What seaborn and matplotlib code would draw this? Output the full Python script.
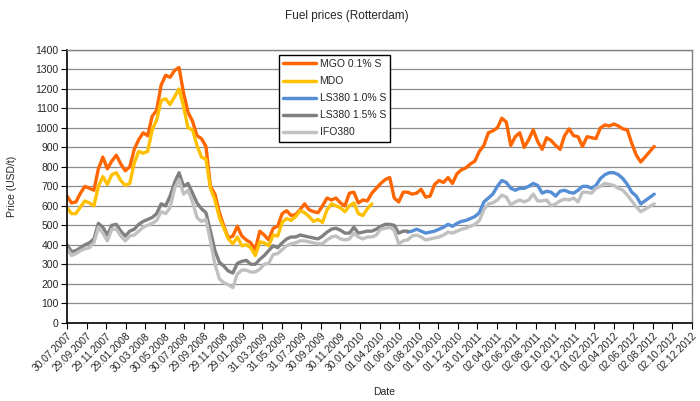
import matplotlib
matplotlib.use("Agg")
import numpy as np
import pandas as pd
import seaborn as sns
import matplotlib.pyplot as plt
from matplotlib.lines import Line2D

sns.set_theme(style="white")
plt.rcParams["font.family"] = ["Liberation Sans", "DejaVu Sans"]

N = None
# 14-day sampling grid starting 30.07.2007
dates = pd.date_range("2007-07-30", periods=132, freq="14D")

mgo = [650, 615, 620, 665, 700, 690, 680, 790, 850, 790,
       830, 860, 815, 780, 800, 890, 940, 975, 960, 1060,
       1090, 1220, 1270, 1260, 1295, 1310, 1180, 1080, 1035, 960,
       945, 905, 700, 660, 565, 495, 435, 445, 495, 445,
       425, 410, 375, 470, 450, 425, 485, 495, 560, 575,
       550, 555, 580, 610, 580, 570, 565, 600, 640, 630,
       640, 615, 600, 665, 670, 615, 630, 625, 665, 690,
       715, 735, 745, 640, 620, 670, 670, 660, 665, 685,
       645, 650, 710, 730, 720, 745, 715, 765, 785, 795,
       815, 830, 880, 910, 975, 985, 1000, 1050, 1030, 910,
       955, 975, 900, 940, 990, 930, 890, 950, 935, 910,
       890, 960, 995, 960, 955, 905, 955, 950, 945, 1000,
       1015, 1010, 1020, 1010, 995, 990, 920, 860, 825, N,
       N, 905]

mdo = [590, 560, 560, 595, 625, 615, 600, 700, 750, 710,
       760, 770, 730, 705, 715, 820, 880, 870, 880, 990,
       1040, 1140, 1150, 1120, 1160, 1200, 1110, 1000, 990, 910,
       850, 840, 690, 630, 540, 485, 430, 405, 440, 395,
       400, 385, 345, 415, 410, 395, 450, 445, 515, 535,
       525, 545, 575, 565, 545, 520, 530, 515, 580, 610,
       600, 590, 570, 600, 615, 560, 550, 585, 610] + [N] * 63

ls380_10 = [N] * 76 + [
       465, 470, 480, 470, 460, 465, 470, 480, 490, 505,
       495, 510, 520, 525, 535, 545, 565, 620, 640, 660,
       700, 730, 720, 690, 680, 690, 690, 700, 715, 705,
       665, 675, 670, 650, 675, 680, 670, 665, 680, 700,
       700, 690, 705, 740, 760, 770, 770, 760, 740, 710,
       670, 650, 610, N, N, 660]

ls380_15 = [400, 365, 370, 385, 400, 410, 430, 510, 490, 450,
       500, 505, 470, 445, 470, 480, 505, 520, 530, 540,
       560, 610, 600, 650, 720, 770, 700, 715, 665, 615,
       585, 565, 470, 370, 310, 290, 265, 255, 305, 315,
       320, 300, 300, 325, 345, 370, 395, 385, 410, 430,
       440, 440, 450, 445, 440, 435, 430, 445, 465, 480,
       485, 475, 460, 460, 490, 460, 465, 470, 470, 480,
       495, 505, 505, 500, 460, 470, 470] + [N] * 55

ifo380 = [380, 345, 355, 370, 380, 385, 410, 490, 460, 420,
       480, 480, 445, 420, 445, 450, 470, 490, 500, 510,
       525, 570, 560, 590, 690, 735, 660, 680, 620, 540,
       520, 530, 420, 300, 225, 205, 195, 180, 250, 270,
       270, 260, 260, 275, 300, 305, 350, 355, 375, 395,
       405, 410, 420, 420, 415, 410, 405, 405, 425, 440,
       445, 430, 425, 430, 460, 440, 430, 440, 440, 450,
       480, 485, 490, 475, 405, 420, 425, 445, 450, 440,
       425, 430, 435, 440, 450, 465, 460, 470, 480, 485,
       495, 505, 525, 580, 610, 615, 630, 655, 645, 605,
       620, 630, 620, 630, 660, 625, 625, 630, 600, 610,
       625, 635, 630, 640, 620, 670, 670, 665, 690, 700,
       715, 710, 705, 690, 680, 655, 625, 595, 570, N,
       N, 610]

series_names = ["MGO 0.1% S", "MDO", "LS380 1.0% S", "LS380 1.5% S", "IFO380"]
series_values = [mgo, mdo, ls380_10, ls380_15, ifo380]
colors = ["#FF6600", "#FFC000", "#558ED5", "#808080", "#C0C0C0"]

frames = []
for name, vals in zip(series_names, series_values):
    assert len(vals) == len(dates), (name, len(vals))
    d = pd.DataFrame({"Date": dates, "Price": pd.to_numeric(pd.Series(vals), errors="coerce"), "Fuel": name})
    frames.append(d.dropna())
df = pd.concat(frames, ignore_index=True)

fig = plt.figure(figsize=(7.0, 4.01), dpi=100)
ax = fig.add_axes([67 / 700, 1 - 322.7 / 401, 625 / 700, 272.7 / 401])

palette = dict(zip(series_names, colors))
sns.lineplot(data=df, x="Date", y="Price", hue="Fuel", hue_order=series_names,
             palette=palette, estimator=None, sort=True, linewidth=2.4,
             legend=False, ax=ax)

# axes
ax.set_ylim(0, 1400)
ax.set_yticks(np.arange(0, 1401, 100))
xmin, xmax = pd.Timestamp("2007-07-30"), pd.Timestamp("2012-12-02")
ax.set_xlim(xmin, xmax)
ticks = pd.date_range(xmin, xmax, freq="61D")
ax.set_xticks(ticks)
ax.set_xticklabels([t.strftime("%d.%m.%Y") for t in ticks], rotation=45,
                   ha="right", rotation_mode="anchor", fontsize=7.3)
ax.tick_params(axis="y", labelsize=7.5, length=4, width=0.8, color="black", pad=2, direction="out", left=True)
ax.tick_params(axis="x", length=4, width=0.8, color="black", pad=2, direction="out", bottom=True)

ax.grid(axis="y", color="#8C8C8C", linewidth=0.9)
ax.set_axisbelow(True)
for side in ["top", "right"]:
    ax.spines[side].set_color("#808080")
    ax.spines[side].set_linewidth(1.0)
for side in ["left", "bottom"]:
    ax.spines[side].set_color("black")
    ax.spines[side].set_linewidth(1.2)

ax.set_xlabel("Date", fontsize=7.5, labelpad=2)
ax.xaxis.set_label_coords(0.507, -0.235)
ax.set_ylabel("Price (USD/t)", fontsize=7.5)
ax.yaxis.set_label_coords(-0.08, 0.5)

fig.suptitle("Fuel prices (Rotterdam)", x=0.495, y=0.975, fontsize=8.5)

handles = [Line2D([0], [0], color=c, lw=2.5) for c in colors]
leg = ax.legend(handles, series_names, loc="upper left", bbox_to_anchor=(0.339, 0.982),
                fontsize=7.5, frameon=True, fancybox=False, framealpha=1,
                edgecolor="black", handlelength=3.2, handletextpad=0.3,
                labelspacing=0.68, borderpad=0.4, borderaxespad=0)
leg.get_frame().set_linewidth(1.0)

fig.savefig("out.png", dpi=100)
